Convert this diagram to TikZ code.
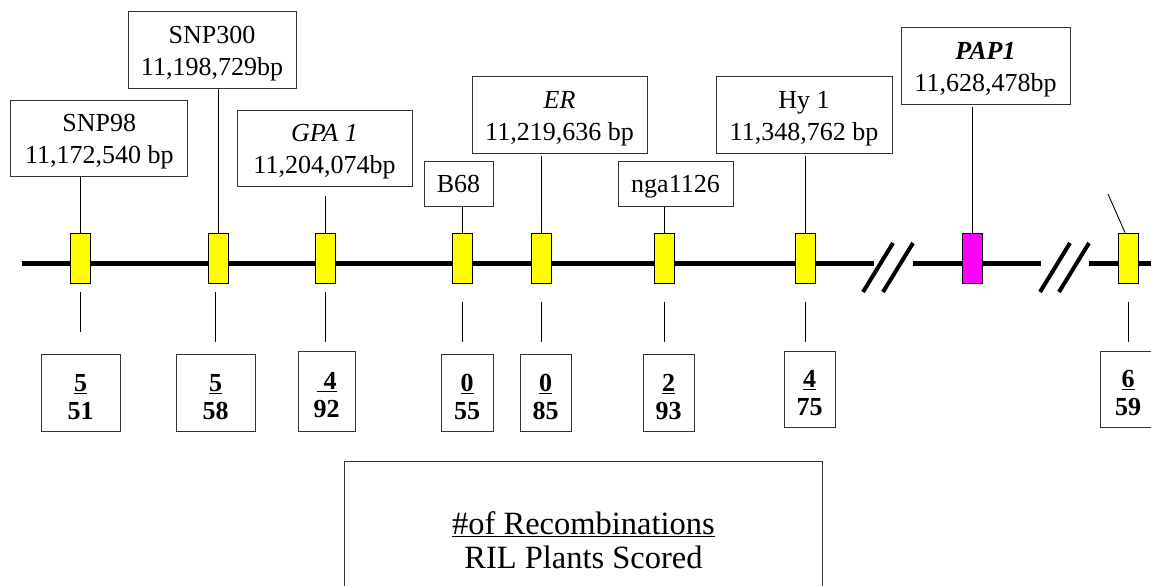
\documentclass[tikz,border=0pt]{standalone}
\usepackage{fontspec}
\setmainfont{Liberation Serif}
\definecolor{mkyellow}{RGB}{255,255,0}
\definecolor{mkmagenta}{RGB}{255,0,255}

\begin{document}
\begin{tikzpicture}[x=1pt, y=-1pt,
  lbl/.style={draw=black!80, line width=1pt, inner sep=0pt, align=center,
    minimum height=76pt, font=\fontsize{26}{32}\selectfont},
  twoline/.style={execute at begin node={\rule{0pt}{56pt}}},
  oneline/.style={minimum height=45pt, text depth=0pt},
  mk/.style={draw=black, line width=0.8pt, fill=mkyellow, minimum width=20pt,
    minimum height=50pt, inner sep=0pt},
  cnt/.style={draw=black!80, line width=1pt, inner sep=0pt, align=center,
    minimum height=77pt, font=\fontsize{26}{28}\selectfont\bfseries,
    execute at begin node={\rule{0pt}{54pt}}},
  tick/.style={line width=0.9pt},
  chrom/.style={line width=5pt},
  brk/.style={line width=4pt}]
\useasboundingbox (0,0) rectangle (1151,586);

% chromosome with two breaks
\coordinate (L0) at (22,263.5);
\coordinate (L1) at (874,263.5);
\coordinate (L2) at (913,263.5);
\coordinate (L3) at (1041,263.5);
\coordinate (L4) at (1089,263.5);
\coordinate (L5) at (1155,263.5);
\draw[chrom] (L0) -- (L1);
\draw[chrom] (L2) -- (L3);
\draw[chrom] (L4) -- (L5);
\draw[brk] (863,292) -- (893,243);
\draw[brk] (883,292) -- (913,243);
\draw[brk] (1040,292) -- (1070,243);
\draw[brk] (1059,292) -- (1089,243);

% markers
\node[mk] (snp98) at (80.5,258) {};
\node[mk] (snp300) at (218,258) {};
\node[mk] (gpa) at (325.5,258) {};
\node[mk] (b68) at (462.5,258) {};
\node[mk] (er) at (541,258) {};
\node[mk] (nga) at (664.5,258) {};
\node[mk] (hy) at (805,258) {};
\node[mk, fill=mkmagenta] (pap) at (972,258) {};
\node[mk] (last) at (1128,258) {};

% marker labels
\node[lbl, twoline, minimum width=177pt] (snp98lbl) at (99.3,138) {SNP98\\11,172,540 bp};
\node[lbl, twoline, minimum width=168pt] (snp300lbl) at (212,50) {SNP300\\11,198,729bp};
\node[lbl, twoline, minimum width=175pt] (gpalbl) at (324.5,148) {\textit{GPA 1}\\11,204,074bp};
\node[lbl, oneline, minimum width=69pt] (b68lbl) at (458.5,183.5) {B68};
\node[lbl, twoline, minimum width=175pt] (erlbl) at (559.5,115) {\textit{ER}\\11,219,636 bp};
\node[lbl, oneline, minimum width=115pt] (ngalbl) at (675.5,183.5) {nga1126};
\node[lbl, twoline, minimum width=176pt] (hylbl) at (804,115) {Hy 1\\11,348,762 bp};
\node[lbl, twoline, minimum width=169pt] (paplbl) at (985.5,66) {\textbf{\textit{PAP1}}\\11,628,478bp};
\coordinate (offlbl) at (1108,194);

\draw[tick] (snp98.north) -- (snp98 |- snp98lbl.south);
\draw[tick] (snp300.north) -- (snp300 |- snp300lbl.south);
\draw[tick] (gpa.north) -- ([yshift=-9pt]gpa |- gpalbl.south);
\draw[tick] (b68.north) -- (b68 |- b68lbl.south);
\draw[tick] (er.north) -- ([yshift=-2pt]er |- erlbl.south);
\draw[tick] (nga.north) -- (nga |- ngalbl.south);
\draw[tick] (hy.north) -- ([yshift=-2pt]hy |- hylbl.south);
\draw[tick] (pap.north) -- ([yshift=-2pt]pap |- paplbl.south);
\draw[tick] (offlbl) -- ([xshift=-3pt]last.north);

% ticks below the markers
\draw[tick] ([yshift=-9pt]snp98.south) -- ++(0,40);
\draw[tick] ([xshift=-3pt, yshift=-9pt]snp300.south) -- ++(0,50);
\draw[tick] ([yshift=-9pt]gpa.south) -- ++(0,50);
\draw[tick] ([yshift=-19pt]b68.south) -- ++(0,40);
\draw[tick] ([yshift=-19pt]er.south) -- ++(0,40);
\draw[tick] ([yshift=-19pt]nga.south) -- ++(0,40);
\draw[tick] ([yshift=-19pt]hy.south) -- ++(0,40);
\draw[tick] ([yshift=-19pt]last.south) -- ++(0,40);

% recombination counts
\node[cnt, minimum width=79pt] (snp98cnt) at (80.7,392.5) {\underline{5}\\51};
\node[cnt, minimum width=79pt] (snp300cnt) at (215.5,392.5) {\underline{5}\\58};
\node[cnt, minimum width=57pt, minimum height=80pt] (gpacnt) at (326.5,391) {\underline{\hspace{7pt}4}\\92};
\node[cnt, minimum width=52pt] (b68cnt) at (467,392.5) {\underline{0}\\55};
\node[cnt, minimum width=51pt] (ercnt) at (545.5,392.5) {\underline{0}\\85};
\node[cnt, minimum width=51pt] (ngacnt) at (668.5,392.5) {\underline{2}\\93};
\node[cnt, minimum width=51pt, minimum height=76pt] (hycnt) at (809.5,389) {\underline{4}\\75};
\node[cnt, minimum width=56pt, minimum height=76pt] (lastcnt) at (1128,389) {\underline{6}\\59};

% legend
\draw[draw=black!80, line width=1pt] (344,461) rectangle (822,640);
\node[align=center, font=\fontsize{32.5}{34}\selectfont] (legend) at (583.5,540)
  {\underline{\#of Recombinations}\\RIL Plants Scored};
\end{tikzpicture}
\end{document}
